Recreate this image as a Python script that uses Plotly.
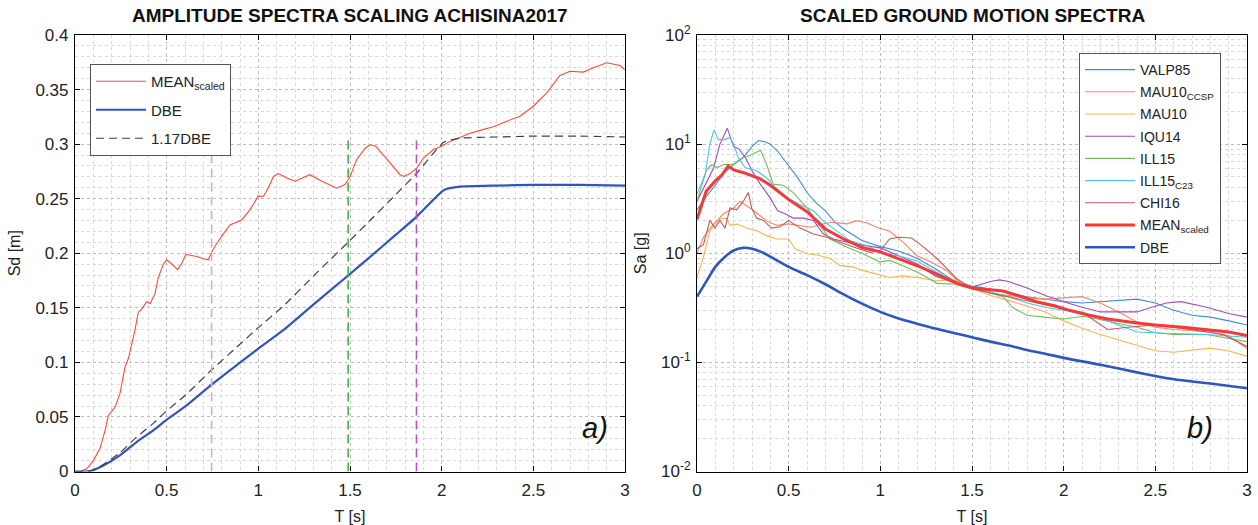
import plotly.graph_objects as go

# ---------------- Left panel data ----------------
T_mean_L = [0, 0.027, 0.064, 0.1, 0.136, 0.164, 0.182, 0.218, 0.245, 0.273, 0.291, 0.318, 0.327, 0.345, 0.36,
            0.391, 0.41, 0.436, 0.455, 0.482, 0.5, 0.536, 0.558, 0.58, 0.605, 0.635, 0.665, 0.7, 0.727, 0.745,
            0.773, 0.81, 0.845, 0.909, 0.955, 1.0, 1.027, 1.055, 1.082, 1.109, 1.155, 1.2, 1.245, 1.282, 1.336,
            1.427, 1.473, 1.5, 1.536, 1.582, 1.609, 1.64, 1.682, 1.727, 1.773, 1.795, 1.827, 1.864, 1.9, 1.955,
            2.0, 2.045, 2.1, 2.155, 2.209, 2.282, 2.355, 2.427, 2.5, 2.573, 2.645, 2.7, 2.773, 2.827, 2.9,
            2.945, 2.973, 3.0]
Sd_mean = [0, 0, 0.0025, 0.01, 0.021, 0.0377, 0.0514, 0.059, 0.0713, 0.0958, 0.1035, 0.123, 0.1295, 0.146,
           0.148, 0.1555, 0.154, 0.163, 0.178, 0.19, 0.194, 0.189, 0.185, 0.19, 0.199, 0.198, 0.197, 0.195,
           0.194, 0.201, 0.209, 0.218, 0.226, 0.2305, 0.24, 0.2526, 0.252, 0.26, 0.2704, 0.273, 0.269, 0.266,
           0.2695, 0.272, 0.267, 0.2596, 0.263, 0.27, 0.2857, 0.296, 0.2994, 0.298, 0.29, 0.281, 0.272, 0.2704,
           0.273, 0.278, 0.287, 0.295, 0.298, 0.3025, 0.306, 0.31, 0.3126, 0.316, 0.321, 0.3255, 0.3347, 0.347,
           0.363, 0.3668, 0.366, 0.37, 0.3746, 0.373, 0.372, 0.368]

T_dbe_L = [0, 0.082, 0.155, 0.245, 0.336, 0.427, 0.5, 0.609, 0.745, 0.882, 1.0, 1.136, 1.3, 1.5, 1.591,
           1.75, 1.864, 2.013, 2.1, 2.3, 2.5, 2.75, 3.0]
Sd_dbe = [0, 0.0003, 0.0055, 0.0147, 0.027, 0.0377, 0.0475, 0.0606, 0.0796, 0.0974, 0.1127, 0.1295, 0.153,
          0.181, 0.194, 0.217, 0.2336, 0.258, 0.261, 0.262, 0.2627, 0.2627, 0.262]
dbe_factor = 1.17

# period-range markers (0.5*T1, T1, 1.25*T1)
T_marks = [0.745, 1.49, 1.8625]
mark_top = 0.307
mark_colors = ["#dba6d6", "#49b049", "#b852c0"]

# ---------------- Right panel data ----------------
T_valp = [0, 0.05, 0.1, 0.15, 0.2, 0.25, 0.3, 0.335, 0.37, 0.4, 0.44, 0.5, 0.55, 0.6, 0.65, 0.7, 0.75, 0.8, 0.9,
          1.0, 1.1, 1.2, 1.3, 1.4, 1.5, 1.6, 1.7, 1.8, 1.9, 2.0, 2.1, 2.2, 2.3, 2.4, 2.5, 2.6, 2.7, 2.8, 2.9, 3.0]
Sa_valp = [2.5, 3.3, 4.2, 5.5, 6.5, 7.5, 9.5, 10.8, 10.5, 10.0, 8.6, 6.3, 4.9, 3.6, 2.9, 2.45, 1.95, 1.67, 1.31,
           1.15, 1.05, 0.9, 0.72, 0.56, 0.5, 0.47, 0.43, 0.40, 0.38, 0.36, 0.35, 0.36, 0.37, 0.38, 0.35, 0.3,
           0.27, 0.26, 0.24, 0.22]

T_ccsp = [0, 0.035, 0.09, 0.145, 0.2, 0.235, 0.26, 0.31, 0.38, 0.435, 0.5, 0.56, 0.62, 0.69, 0.74, 0.82, 0.87,
          0.925, 0.98, 1.05, 1.125, 1.2, 1.27, 1.36, 1.42, 1.5, 1.6, 1.7, 1.8, 1.9, 2.0, 2.1, 2.2, 2.3, 2.4,
          2.5, 2.6, 2.7, 2.8, 2.9, 3.0]
Sa_ccsp = [1.0, 1.4, 1.85, 2.3, 2.6, 3.0, 2.8, 2.45, 1.98, 1.8, 1.86, 1.8, 1.73, 1.86, 1.92, 1.86, 1.99, 1.9,
           1.73, 1.6, 1.26, 0.95, 0.84, 0.7, 0.56, 0.49, 0.43, 0.41, 0.39, 0.38, 0.39, 0.40, 0.35, 0.29, 0.235,
           0.21, 0.2, 0.196, 0.19, 0.175, 0.134]

T_mau = [0, 0.035, 0.07, 0.125, 0.16, 0.18, 0.22, 0.27, 0.33, 0.38, 0.435, 0.5, 0.535, 0.6, 0.65, 0.725, 0.78,
         0.85, 0.9, 0.98, 1.05, 1.125, 1.2, 1.3, 1.4, 1.5, 1.6, 1.7, 1.8, 1.9, 2.0, 2.1, 2.2, 2.3, 2.4, 2.5,
         2.6, 2.7, 2.8, 2.9, 3.0]
Sa_mau = [0.6, 0.92, 1.6, 2.06, 2.1, 1.8, 1.85, 1.7, 1.6, 1.45, 1.35, 1.35, 1.1, 0.99, 0.97, 0.9, 0.77, 0.75,
          0.7, 0.65, 0.6, 0.62, 0.6, 0.56, 0.57, 0.48, 0.41, 0.37, 0.33, 0.29, 0.24, 0.205, 0.18, 0.16, 0.142,
          0.128, 0.124, 0.13, 0.135, 0.127, 0.114]

T_iqu = [0, 0.05, 0.09, 0.125, 0.165, 0.2, 0.23, 0.265, 0.3, 0.345, 0.4, 0.44, 0.48, 0.525, 0.58, 0.635, 0.69,
         0.745, 0.82, 0.91, 1.0, 1.1, 1.2, 1.3, 1.4, 1.5, 1.6, 1.65, 1.7, 1.8, 1.9, 2.0, 2.1, 2.2, 2.3, 2.4,
         2.48, 2.56, 2.64, 2.78, 2.9, 3.0]
Sa_iqu = [3.0, 4.5, 6.0, 10.0, 14.0, 9.5, 9.0, 7.5, 5.7, 4.3, 3.2, 2.45, 2.3, 2.1, 2.1, 2.0, 1.5, 1.35, 1.26,
          1.18, 1.12, 0.95, 0.8, 0.62, 0.54, 0.49, 0.55, 0.57, 0.55, 0.48, 0.41, 0.36, 0.32, 0.29, 0.29, 0.29,
          0.32, 0.35, 0.36, 0.32, 0.28, 0.26]

T_ill = [0, 0.05, 0.08, 0.11, 0.145, 0.2, 0.235, 0.29, 0.347, 0.38, 0.415, 0.47, 0.525, 0.6, 0.655, 0.725,
         0.815, 0.905, 0.998, 1.05, 1.1, 1.22, 1.31, 1.42, 1.5, 1.58, 1.67, 1.72, 1.8, 1.89, 2.0, 2.11, 2.24,
         2.4, 2.5, 2.6, 2.78, 3.0]
Sa_ill = [3.0, 5.7, 6.5, 6.1, 6.5, 6.5, 7.3, 7.9, 8.8, 6.5, 4.3, 4.2, 3.6, 2.6, 1.97, 1.35, 1.14, 0.99, 0.83,
          0.86, 0.8, 0.65, 0.53, 0.52, 0.48, 0.44, 0.4, 0.32, 0.27, 0.26, 0.25, 0.265, 0.24, 0.21, 0.187,
          0.18, 0.18, 0.155]

T_c23 = [0, 0.045, 0.07, 0.093, 0.117, 0.153, 0.18, 0.2, 0.225, 0.262, 0.325, 0.38, 0.435, 0.5, 0.56, 0.635,
         0.69, 0.76, 0.835, 0.925, 1.015, 1.1, 1.2, 1.3, 1.4, 1.5, 1.6, 1.7, 1.8, 1.9, 2.0, 2.1, 2.24, 2.4,
         2.56, 2.78, 3.0]
Sa_c23 = [3.5, 5.3, 10.0, 13.5, 11.0, 11.0, 11.5, 10.0, 7.5, 6.1, 5.7, 4.9, 3.9, 3.2, 2.8, 2.45, 1.97, 1.6,
          1.3, 1.18, 0.99, 0.95, 0.85, 0.68, 0.55, 0.49, 0.44, 0.4, 0.35, 0.32, 0.3, 0.29, 0.24, 0.19, 0.185,
          0.18, 0.17]

T_chi = [0, 0.035, 0.07, 0.098, 0.125, 0.153, 0.18, 0.216, 0.253, 0.28, 0.298, 0.325, 0.362, 0.407, 0.453,
         0.5, 0.562, 0.635, 0.707, 0.78, 0.853, 0.944, 1.0, 1.05, 1.1, 1.17, 1.22, 1.31, 1.42, 1.5, 1.67, 1.85,
         2.0, 2.11, 2.24, 2.35, 2.5, 2.69, 2.87, 3.0]
Sa_chi = [1.1, 1.2, 2.0, 1.7, 2.0, 1.7, 2.6, 2.5, 3.0, 3.6, 2.6, 2.1, 2.0, 1.7, 1.75, 2.0, 1.7, 1.5, 1.4, 1.26,
          1.14, 1.02, 1.06, 1.35, 1.4, 1.38, 1.2, 0.89, 0.58, 0.47, 0.41, 0.35, 0.31, 0.28, 0.2, 0.21, 0.22,
          0.2, 0.18, 0.14]

T_mean_R = [0, 0.05, 0.1, 0.135, 0.17, 0.2, 0.25, 0.3, 0.345, 0.4, 0.45, 0.5, 0.6, 0.7, 0.8, 0.9, 1.0, 1.1,
            1.22, 1.3, 1.43, 1.5, 1.6, 1.67, 1.75, 1.85, 1.95, 2.03, 2.14, 2.24, 2.4, 2.5, 2.65, 2.78, 2.9, 3.0]
Sa_mean = [2.05, 3.7, 4.6, 5.2, 6.3, 5.8, 5.5, 5.1, 4.8, 4.2, 3.6, 3.1, 2.4, 1.67, 1.35, 1.13, 1.03, 0.89,
           0.745, 0.65, 0.52, 0.48, 0.465, 0.45, 0.41, 0.36, 0.33, 0.30, 0.27, 0.25, 0.23, 0.22, 0.21, 0.2,
           0.19, 0.176]

T_dbe_R = [0, 0.05, 0.1, 0.15, 0.2, 0.25, 0.3, 0.35, 0.4, 0.5, 0.6, 0.7, 0.8, 0.9, 1.0, 1.1, 1.2, 1.3, 1.4,
           1.5, 1.6, 1.7, 1.8, 1.9, 2.0, 2.2, 2.4, 2.5, 2.6, 2.8, 3.0]
Sa_dbe = [0.40, 0.55, 0.75, 0.92, 1.06, 1.12, 1.1, 1.03, 0.93, 0.75, 0.63, 0.52, 0.42, 0.345, 0.29, 0.252, 0.226,
          0.204, 0.186, 0.17, 0.155, 0.143, 0.13, 0.12, 0.11, 0.095, 0.081, 0.075, 0.07, 0.064, 0.058]

records = [
    ("VALP85", T_valp, Sa_valp, "#3d8fd2", 1.1),
    ("MAU10<sub>CCSP</sub>", T_ccsp, Sa_ccsp, "#f3876a", 1.1),
    ("MAU10", T_mau, Sa_mau, "#f6b550", 1.1),
    ("IQU14", T_iqu, Sa_iqu, "#9b4fc1", 1.1),
    ("ILL15", T_ill, Sa_ill, "#74bd5e", 1.1),
    ("ILL15<sub>C23</sub>", T_c23, Sa_c23, "#4cc3ef", 1.1),
    ("CHI16", T_chi, Sa_chi, "#c45a5c", 1.1),
]

FONT = "Liberation Sans, Arial, sans-serif"
fig = go.Figure()

# ----- left panel -----
fig.add_trace(go.Scatter(x=T_mean_L, y=Sd_mean, mode="lines", name="MEAN<sub>scaled</sub>",
                         line=dict(color="#ff4a3a", width=1.1), xaxis="x", yaxis="y", legend="legend",
                         legendgroup="L1"))
fig.add_trace(go.Scatter(x=T_dbe_L, y=Sd_dbe, mode="lines", name="DBE",
                         line=dict(color="#3353bf", width=2.2, shape="spline", smoothing=0.5),
                         xaxis="x", yaxis="y", legend="legend", legendgroup="L2"))
fig.add_trace(go.Scatter(x=T_dbe_L, y=[dbe_factor * v for v in Sd_dbe], mode="lines", name="1.17DBE",
                         line=dict(color="#404040", width=1.2, dash="8px,5px", shape="spline", smoothing=0.5),
                         xaxis="x", yaxis="y", legend="legend", legendgroup="L3"))
for tm, col in zip(T_marks, mark_colors):
    fig.add_trace(go.Scatter(x=[tm, tm], y=[0, mark_top], mode="lines", showlegend=False,
                             line=dict(color=col, width=1.6, dash="9px,5px"), xaxis="x", yaxis="y",
                             hoverinfo="skip"))

# ----- right panel -----
for i, (name, tx, sa, col, w) in enumerate(records):
    fig.add_trace(go.Scatter(x=tx, y=sa, mode="lines", name=name, line=dict(color=col, width=w),
                             xaxis="x2", yaxis="y2", legend="legend2", legendgroup=f"R{i}"))
fig.add_trace(go.Scatter(x=T_mean_R, y=Sa_mean, mode="lines", name="MEAN<sub>scaled</sub>",
                         line=dict(color="#f23a3a", width=3), xaxis="x2", yaxis="y2", legend="legend2",
                         legendgroup="R7"))
fig.add_trace(go.Scatter(x=T_dbe_R, y=Sa_dbe, mode="lines", name="DBE",
                         line=dict(color="#2d56c0", width=2.6, shape="spline", smoothing=0.8),
                         xaxis="x2", yaxis="y2", legend="legend2", legendgroup="R8"))

W, H = 1258, 525
yb, yt = 1 - 471.5 / H, 1 - 35 / H

grid_major = "#bdbdbd"
grid_minor = "#d9d9d9"
common_axis = dict(showline=True, linecolor="black", linewidth=1.2, mirror="ticks", ticks="inside",
                   ticklen=5, tickcolor="black", showgrid=True, gridcolor=grid_major, griddash="dot",
                   gridwidth=1, zeroline=False, automargin=False,
                   tickfont=dict(family=FONT, size=17, color="#222"))
xtitle = dict(text="T [s]", font=dict(size=16, family=FONT), standoff=14)

fig.update_layout(
    width=W, height=H, margin=dict(l=0, r=0, t=0, b=0, autoexpand=False),
    paper_bgcolor="white", plot_bgcolor="white",
    font=dict(family=FONT, color="#222"),
    xaxis=dict(domain=[75 / W, 625 / W], range=[0, 3], dtick=0.5, anchor="y", ticklabelstandoff=3,
               minor=dict(dtick=0.1, showgrid=True, gridcolor=grid_minor, griddash="dot", ticks=""),
               title=xtitle, **common_axis),
    yaxis=dict(domain=[yb, yt], range=[0, 0.4], dtick=0.05, anchor="x", ticklabelstandoff=2,
               minor=dict(dtick=0.01, showgrid=True, gridcolor=grid_minor, griddash="dot", ticks=""),
               title=dict(text="Sd [m]", font=dict(size=16, family=FONT), standoff=10), **common_axis),
    xaxis2=dict(domain=[697 / W, 1247 / W], range=[0, 3], dtick=0.5, anchor="y2", ticklabelstandoff=3,
                minor=dict(dtick=0.1, showgrid=True, gridcolor=grid_minor, griddash="dot", ticks=""),
                title=xtitle, **common_axis),
    yaxis2=dict(domain=[yb, yt], type="log", range=[-2, 2], anchor="x2", ticklabelstandoff=2,
                tickvals=[0.01, 0.1, 1, 10, 100],
                ticktext=["10<sup>-2</sup>", "10<sup>-1</sup>", "10<sup>0</sup>", "10<sup>1</sup>",
                          "10<sup>2</sup>"],
                minor=dict(showgrid=True, gridcolor=grid_minor, griddash="dot", ticks="", dtick="D1"),
                title=dict(text="Sa [g]", font=dict(size=16, family=FONT), standoff=10), **common_axis),
    legend=dict(x=90 / W, y=1 - 64 / H, xanchor="left", yanchor="top", bgcolor="white",
                bordercolor="#555", borderwidth=1, font=dict(family=FONT, size=15, color="#222"),
                tracegroupgap=6, itemwidth=50),
    legend2=dict(x=1079 / W, y=1 - 53 / H, xanchor="left", yanchor="top", bgcolor="white",
                 bordercolor="#555", borderwidth=1, font=dict(family=FONT, size=14, color="#222"),
                 tracegroupgap=1, itemwidth=50),
    showlegend=True,
    annotations=[
        dict(text="<b>AMPLITUDE SPECTRA SCALING ACHISINA2017</b>", x=350 / W, y=1 - 15 / H,
             xref="paper", yref="paper", xanchor="center", yanchor="middle", showarrow=False,
             font=dict(family=FONT, size=19, color="#111")),
        dict(text="<b>SCALED GROUND MOTION SPECTRA</b>", x=972 / W, y=1 - 15 / H,
             xref="paper", yref="paper", xanchor="center", yanchor="middle", showarrow=False,
             font=dict(family=FONT, size=19, color="#111")),
        dict(text="<i>a)</i>", x=595 / W, y=1 - 428 / H, xref="paper", yref="paper", xanchor="center",
             yanchor="middle", showarrow=False, font=dict(family=FONT, size=29, color="#111")),
        dict(text="<i>b)</i>", x=1200 / W, y=1 - 428 / H, xref="paper", yref="paper", xanchor="center",
             yanchor="middle", showarrow=False, font=dict(family=FONT, size=29, color="#111")),
    ],
)

fig.write_html("out.html")
